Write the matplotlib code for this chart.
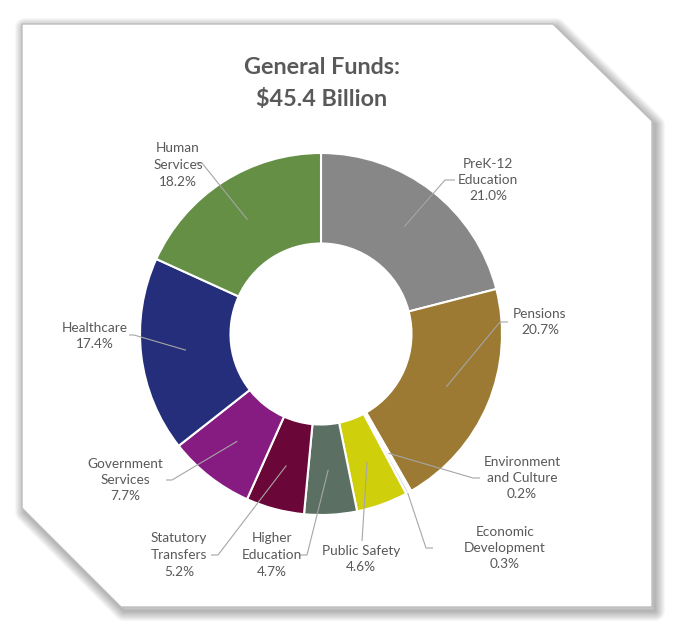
import numpy as np
import matplotlib
matplotlib.use("Agg")
import matplotlib.pyplot as plt
from matplotlib.patches import Polygon

# ---------------- data ----------------
categories = ["PreK-12\nEducation", "Pensions", "Environment\nand Culture",
              "Economic\nDevelopment", "Public Safety", "Higher\nEducation",
              "Statutory\nTransfers", "Government\nServices", "Healthcare",
              "Human\nServices"]
values = [21.0, 20.7, 0.2, 0.3, 4.6, 4.7, 5.2, 7.7, 17.4, 18.2]
colors = ["#878787", "#9c7a33", "#e8e8e8", "#dcdcdc", "#cfcf0b", "#5b6f63",
          "#6a0638", "#861c82", "#252e7a", "#648f45"]
title_lines = ["General Funds:", "$45.4 Billion"]

# ---------------- layout (pixel coords, y measured from top) ----------------
W, H = 674, 630
cx, cy, R, ring = 321, 334, 181, 0.5
label_pos = [(488, 180), (540, 322), (522, 478), (505, 548), (361, 559),
             (272, 555), (179, 555), (125, 480), (95, 336), (178, 165)]
elbows = [[(445, 180), (455, 180)], [(500, 322), (508, 322)],
          [(473, 478), (480, 478)], [(426, 548), (433, 548)],
          [(362, 541)], [(307, 555), (300, 555)], [(218, 555), (211, 555)],
          [(172, 480), (166, 480)], [(134, 335), (129, 335)],
          [(202, 163), (196, 163)]]
line_r = [136, 136, 137, 181, 136, 136, 136, 136, 136, 136]

fig = plt.figure(figsize=(W / 100, H / 100), dpi=100)
fig.patch.set_facecolor("white")
ax = fig.add_axes([0, 0, 1, 1])

def Y(y):
    return H - y

# frame with shadow
frame = [(22, 24), (553, 24), (652, 121), (652, 607), (121, 607), (22, 508)]
fv = [(x, Y(y)) for x, y in frame]
shadow = [(x + 3, y - 4) for x, y in fv]
for k in range(1, 11):
    ax.add_patch(Polygon(shadow, closed=True, fill=False, edgecolor="black",
                         lw=2 * k * 0.72, alpha=0.032, joinstyle="round"))
ax.add_patch(Polygon(fv, closed=True, facecolor="white", edgecolor="#bdbdbd",
                     lw=1.0, zorder=1))

# donut
wedges, _ = ax.pie(values, colors=colors, startangle=90, counterclock=False,
                   center=(cx, Y(cy)), radius=R,
                   wedgeprops=dict(width=R * ring, edgecolor="white", lw=1.5))
for w in wedges:
    w.set_zorder(2)

ax.set_xlim(0, W)
ax.set_ylim(0, H)
ax.set_aspect("auto")
ax.axis("off")

# labels and leader lines
for w, cat, v, (lx, ly), elb, lr in zip(wedges, categories, values,
                                        label_pos, elbows, line_r):
    ang = np.deg2rad((w.theta1 + w.theta2) / 2)
    sx, sy = cx + lr * np.cos(ang), Y(cy) + lr * np.sin(ang)
    pts = [(sx, sy)] + [(x, Y(y)) for x, y in elb]
    ax.plot([p[0] for p in pts], [p[1] for p in pts], color="#a6a6a6",
            lw=0.8, zorder=3, solid_capstyle="butt")
    ax.text(lx, Y(ly), f"{cat}\n{v:.1f}%", ha="center", va="center",
            fontsize=9.8, color="#595959", family=["Lato", "DejaVu Sans"],
            linespacing=1.45, zorder=4)

ax.text(322, Y(68), title_lines[0], ha="center", va="center", fontsize=16.8,
        fontweight="bold", color="#595959", family=["Lato", "DejaVu Sans"])
ax.text(322, Y(100), title_lines[1], ha="center", va="center", fontsize=16.8,
        fontweight="bold", color="#595959", family=["Lato", "DejaVu Sans"])

fig.savefig("out.png", dpi=100, facecolor="white")
